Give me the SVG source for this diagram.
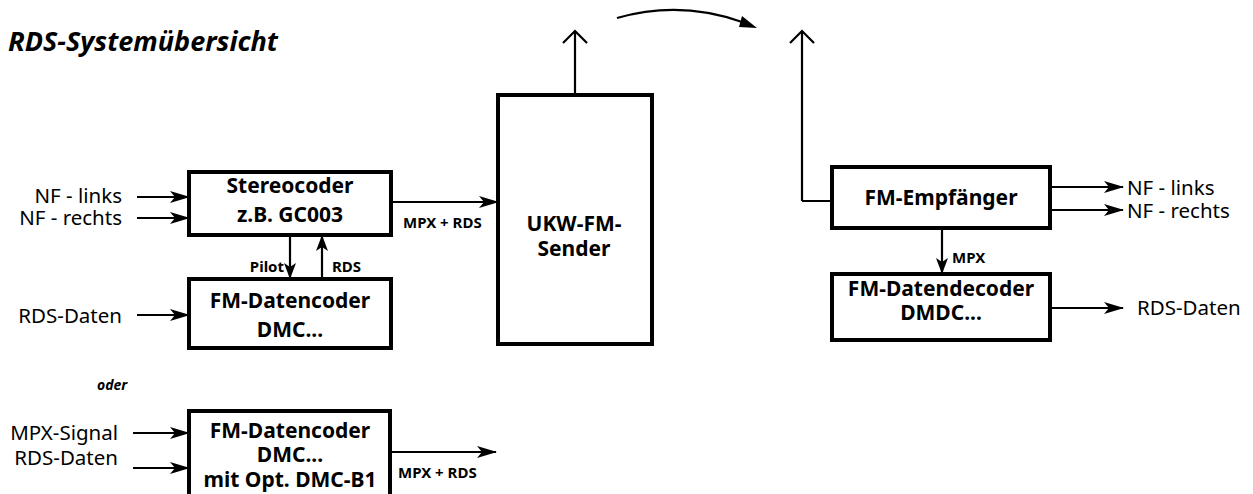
<svg xmlns="http://www.w3.org/2000/svg" width="1253" height="494" viewBox="0 0 1253 494">
<defs>
<marker id="ah" viewBox="0 0 20 12" refX="19" refY="6" markerWidth="20" markerHeight="12" markerUnits="userSpaceOnUse" orient="auto">
<path d="M0,0 L20,6 L0,12 L5,6 Z" fill="#000"/>
</marker>
<marker id="as" viewBox="0 0 16 12" refX="15" refY="6" markerWidth="16" markerHeight="12" markerUnits="userSpaceOnUse" orient="auto">
<path d="M0,0 L16,6 L0,12 L4,6 Z" fill="#000"/>
</marker>
</defs>
<style>
.box{fill:#fff;stroke:#000;stroke-width:4}
.ln{fill:none;stroke:#000;stroke-width:2.2}
.t{font-family:"Noto Sans","Open Sans",sans-serif;font-size:20.5px;fill:#000}
.b{font-family:"Noto Sans","Open Sans",sans-serif;font-size:21px;font-weight:bold;fill:#000;text-anchor:middle}
.s{font-family:"Noto Sans","Open Sans",sans-serif;font-size:15px;font-weight:bold;fill:#000}
</style>
<rect width="1253" height="494" fill="#fff"/>
<text x="8" y="51" font-family="'Noto Sans','Open Sans',sans-serif" font-size="27" font-weight="bold" font-style="italic">RDS-Systemübersicht</text>

<g id="stereocoder"><rect class="box" x="189" y="172" width="202" height="63"/><text class="b" x="290" y="193">Stereocoder</text><text class="b" x="290" y="222">z.B. GC003</text></g>
<g id="datencoder"><rect class="box" x="189" y="279" width="202" height="69"/><text class="b" x="290" y="308">FM-Datencoder</text><text class="b" x="290" y="337">DMC...</text></g>
<g id="sender"><rect class="box" x="498" y="95" width="154" height="249"/><text class="b" x="574" y="231">UKW-FM-</text><text class="b" x="574" y="256">Sender</text></g>
<g id="empfaenger"><rect class="box" x="832" y="167" width="218" height="61"/><text class="b" x="941" y="205">FM-Empfänger</text></g>
<g id="datendecoder"><rect class="box" x="832" y="274" width="218" height="66"/><text class="b" x="941" y="296">FM-Datendecoder</text><text class="b" x="941" y="320">DMDC...</text></g>
<g id="datencoder2"><rect class="box" x="189" y="411" width="201" height="90"/><text class="b" x="290" y="438">FM-Datencoder</text><text class="b" x="290" y="462">DMC...</text><text class="b" x="290" y="487">mit Opt. DMC-B1</text></g>

<g id="labels">
<text class="t" x="122" y="203" text-anchor="end">NF - links</text>
<text class="t" x="122" y="225" text-anchor="end">NF - rechts</text>
<text class="t" x="122" y="323" text-anchor="end">RDS-Daten</text>
<text class="t" x="118" y="440" text-anchor="end">MPX-Signal</text>
<text class="t" x="118" y="465" text-anchor="end">RDS-Daten</text>
<text x="97" y="390" font-family="'Noto Sans','Open Sans',sans-serif" font-size="14" font-weight="bold" font-style="italic">oder</text>
<text class="s" x="403" y="228">MPX + RDS</text>
<text class="s" x="398" y="478">MPX + RDS</text>
<text class="s" x="284" y="272" text-anchor="end">Pilot</text>
<text class="s" x="332" y="272">RDS</text>
<text class="s" x="952" y="263">MPX</text>
<text class="t" x="1127" y="195">NF - links</text>
<text class="t" x="1127" y="218">NF - rechts</text>
<text class="t" x="1137" y="315">RDS-Daten</text>
</g>

<g id="connectors">
<line class="ln" x1="137" y1="197" x2="189" y2="197" marker-end="url(#ah)"/>
<line class="ln" x1="137" y1="218" x2="189" y2="218" marker-end="url(#ah)"/>
<line class="ln" x1="137" y1="315" x2="189" y2="315" marker-end="url(#ah)"/>
<line class="ln" x1="133" y1="433" x2="189" y2="433" marker-end="url(#ah)"/>
<line class="ln" x1="133" y1="468" x2="189" y2="468" marker-end="url(#ah)"/>
<line class="ln" x1="391" y1="202" x2="498" y2="202" marker-end="url(#ah)"/>
<line class="ln" x1="390" y1="452" x2="496" y2="452" marker-end="url(#ah)"/>
<line class="ln" x1="290" y1="235" x2="290" y2="278" marker-end="url(#as)"/>
<line class="ln" x1="322" y1="279" x2="322" y2="236" marker-end="url(#as)"/>
<line class="ln" x1="942" y1="228" x2="942" y2="273" marker-end="url(#as)"/>
<line class="ln" x1="1050" y1="187" x2="1123" y2="187" marker-end="url(#ah)"/>
<line class="ln" x1="1050" y1="210" x2="1123" y2="210" marker-end="url(#ah)"/>
<line class="ln" x1="1050" y1="308" x2="1123" y2="308" marker-end="url(#ah)"/>
<path class="ln" d="M575,95 V31 M563,43 L575,31 L587,43"/>
<path class="ln" d="M802,201 H832 M802,201 V31 M790,43 L802,31 L814,43"/>
<path class="ln" d="M617,18 Q680,0 742,22" />
<path d="M742,16 L757,28 L739,27 Z" fill="#000"/>
</g>
</svg>
